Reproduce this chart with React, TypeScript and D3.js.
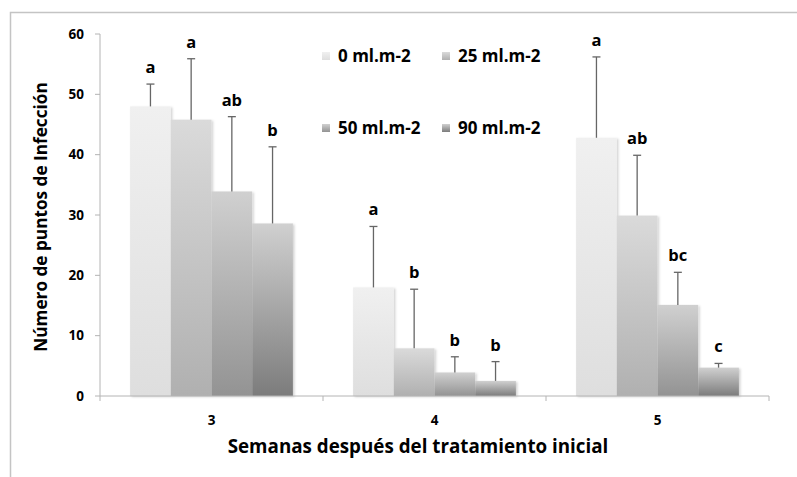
import React from 'react';
import * as d3 from 'd3';

const weeks = ['3', '4', '5'];
const doses = ['0 ml.m-2', '25 ml.m-2', '50 ml.m-2', '90 ml.m-2'];
const means = [
  [48.0, 45.8, 33.9, 28.6],
  [18.0, 7.9, 3.9, 2.5],
  [42.8, 29.9, 15.1, 4.7],
];
const errTops = [
  [51.7, 55.9, 46.3, 41.3],
  [28.1, 17.7, 6.5, 5.7],
  [56.2, 39.9, 20.5, 5.4],
];
const letters = [
  ['a', 'a', 'ab', 'b'],
  ['a', 'b', 'b', 'b'],
  ['a', 'ab', 'bc', 'c'],
];
const yTicks = [0, 10, 20, 30, 40, 50, 60];

const W = 797;
const H = 477;
const font = '"Open Sans", Lato, sans-serif';
const grads = [
  ['#f0f0f0', '#dedede'],
  ['#dadada', '#b0b0b0'],
  ['#d0d0d0', '#939393'],
  ['#d0d0d0', '#7c7c7c'],
];

export default function App() {
  const x0 = d3.scaleBand<string>().domain(weeks).range([100, 769]).paddingInner(0.27).paddingOuter(0.135);
  const x1 = d3.scaleBand<string>().domain(doses).range([0, x0.bandwidth()]);
  const y = d3.scaleLinear().domain([0, 60]).range([396, 34]);

  return (
    <svg width={W} height={H} style={{ position: 'absolute', left: 0, top: 0 }} fontFamily={font}>
      <defs>
        {grads.map((g, i) => (
          <linearGradient key={i} id={'g' + i} x1="0" y1="0" x2="0" y2="1">
            <stop offset="0" stopColor={g[0]} />
            <stop offset="1" stopColor={g[1]} />
          </linearGradient>
        ))}
        <filter id="sh" x="-10%" y="-10%" width="130%" height="130%">
          <feDropShadow dx="1.5" dy="1" stdDeviation="1" floodColor="#000" floodOpacity="0.18" />
        </filter>
      </defs>
      <rect x={0} y={0} width={W} height={H} fill="#fff" />
      <rect x={10.5} y={12.5} width={800} height={480} fill="none" stroke="#c4c4c4" strokeWidth={1.5} />

      {/* bars */}
      {weeks.map((w, gi) => (
        <g key={w} transform={`translate(${x0(w)},0)`}>
          {doses.map((d, si) => (
            <rect key={d} x={x1(d)} y={y(means[gi][si])} width={x1.bandwidth()}
              height={y(0) - y(means[gi][si])} fill={`url(#g${si})`} filter="url(#sh)" />
          ))}
        </g>
      ))}

      {/* axes */}
      <line x1={100} x2={100} y1={y(60)} y2={y(0)} stroke="#b4b4b4" />
      {yTicks.map(t => (
        <g key={t}>
          <line x1={95} x2={100} y1={y(t)} y2={y(t)} stroke="#b4b4b4" />
          <text x={84} y={y(t)} dy="0.35em" textAnchor="end" fontSize={13.5} fontWeight={700}>{t}</text>
        </g>
      ))}
      <line x1={100} x2={769} y1={y(0)} y2={y(0)} stroke="#b4b4b4" />
      {[...weeks.map(w => x0(w)! - x0.step() * 0.135), 769].map((tx, i) => (
        <line key={i} x1={tx} x2={tx} y1={y(0)} y2={y(0) + 5} stroke="#b4b4b4" />
      ))}
      {weeks.map(w => (
        <text key={w} x={x0(w)! + x0.bandwidth() / 2} y={425} textAnchor="middle" fontSize={13.5} fontWeight={700}>{w}</text>
      ))}

      {/* error bars + letters */}
      {weeks.map((w, gi) => (
        <g key={w} transform={`translate(${x0(w)},0)`}>
          {doses.map((d, si) => {
            const cx = x1(d)! + x1.bandwidth() / 2;
            const top = y(errTops[gi][si]);
            return (
              <g key={d}>
                <line x1={cx} x2={cx} y1={y(means[gi][si])} y2={top} stroke="#666" strokeWidth={1.3} />
                <line x1={cx - 4} x2={cx + 4} y1={top} y2={top} stroke="#666" strokeWidth={1.3} />
                <text x={cx} y={top - 11} textAnchor="middle" fontSize={16.5} fontWeight={700}>{letters[gi][si]}</text>
              </g>
            );
          })}
        </g>
      ))}

      {/* legend */}
      {doses.map((d, i) => {
        const lx = i % 2 === 0 ? 322 : 442;
        const ly = i < 2 ? 56 : 128;
        return (
          <g key={d}>
            <rect x={lx} y={ly - 4} width={8} height={8} fill={`url(#g${i})`} />
            <text x={lx + 16} y={ly} dy="0.35em" fontSize={17} fontWeight={700}>{d}</text>
          </g>
        );
      })}

      {/* titles */}
      <text x={418} y={453} textAnchor="middle" fontSize={18.8} fontWeight={700}>Semanas después del tratamiento inicial</text>
      <text transform="translate(47,217) rotate(-90)" textAnchor="middle" fontSize={17.2} fontWeight={700}>Número de puntos de Infección</text>
    </svg>
  );
}
